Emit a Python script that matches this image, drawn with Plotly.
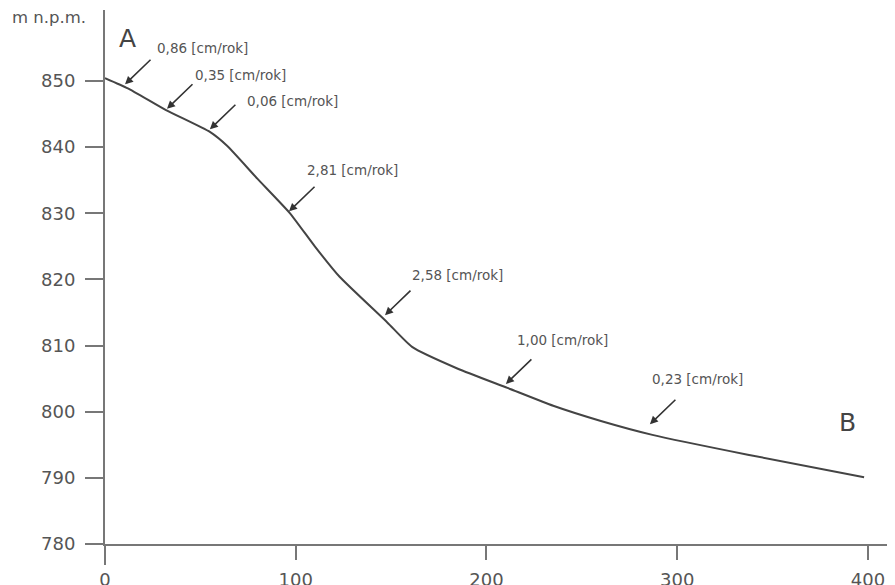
import plotly.graph_objects as go

# Profile A-B: distance [m] vs elevation [m n.p.m.]
dist = [0, 12, 32, 55, 64, 80, 97, 110, 123, 148, 161, 185, 211, 235, 260, 287, 337, 398]
elev = [850.45, 848.9, 845.6, 842.3, 840.2, 835.2, 830.0, 825.0, 820.4, 813.5, 809.8,
        806.5, 803.6, 800.9, 798.6, 796.5, 793.5, 790.1]

x_ticks = [0, 100, 200, 300, 400]
y_ticks = [780, 790, 800, 810, 820, 830, 840, 850]

# Rate labels and where their arrows point
rate_labels = ["0,86 [cm/rok]", "0,35 [cm/rok]", "0,06 [cm/rok]", "2,81 [cm/rok]",
               "2,58 [cm/rok]", "1,00 [cm/rok]", "0,23 [cm/rok]"]
arrow_x = [10.5, 32.5, 55, 96.5, 146.8, 210.2, 285.7]
arrow_y = [849.5, 845.8, 842.7, 830.3, 814.6, 804.2, 798.1]
label_x = [26.2, 46.1, 73.4, 104.9, 159.9, 215.0, 285.8]
label_y = [855.0, 850.9, 847.0, 836.5, 820.7, 810.8, 804.9]

FONT = "DejaVu Sans, Liberation Sans, Arial, sans-serif"
GREY = "#555555"

fig = go.Figure()
fig.add_trace(go.Scatter(x=dist, y=elev, mode="lines",
                         line=dict(color="#444444", width=2, shape="spline", smoothing=0.5),
                         hoverinfo="skip", showlegend=False))

ann = []
for tx, ty, ax_, ay_, lab in zip(label_x, label_y, arrow_x, arrow_y, rate_labels):
    ann.append(dict(x=ax_, y=ay_, xref="x", yref="y", text="", showarrow=True,
                    arrowhead=2, arrowsize=1, arrowwidth=1.6, arrowcolor="#333333",
                    ax=27, ay=-26, standoff=0))
    ann.append(dict(x=tx, y=ty, xref="x", yref="y", text=lab, showarrow=False,
                    xanchor="left", yanchor="middle",
                    font=dict(family=FONT, size=13.5, color=GREY)))

ann.append(dict(x=12, y=856.5, xref="x", yref="y", text="A", showarrow=False,
                font=dict(family=FONT, size=25, color="#444444")))
ann.append(dict(x=389.5, y=798.3, xref="x", yref="y", text="B", showarrow=False,
                font=dict(family=FONT, size=25, color="#444444")))
ann.append(dict(x=-95 / 790, y=(544 - 17) / 534, xref="paper", yref="paper", text="m n.p.m.",
                showarrow=False, xanchor="left", yanchor="middle",
                font=dict(family=FONT, size=16.5, color=GREY)))
ann.append(dict(x=(888 - 105) / 790, y=(544 - 560) / 534, xref="paper", yref="paper",
                text="m", showarrow=False, xanchor="left", yanchor="middle",
                font=dict(family=FONT, size=17, color=GREY)))

fig.update_layout(
    width=895, height=585,
    margin=dict(l=97, r=8, t=2, b=49, autoexpand=False),
    paper_bgcolor="white", plot_bgcolor="white",
    annotations=ann,
    shapes=[dict(type="line", xref="paper", yref="paper", x0=0, x1=0,
                 y0=-21 / 534, y1=0, line=dict(color="#777777", width=2))],
    xaxis=dict(range=[0, 414.2], tickvals=x_ticks, ticks="outside", ticklen=14,
               tickwidth=2, tickcolor="#777777", showline=True, linecolor="#777777",
               linewidth=2, showgrid=False, zeroline=False, ticklabelstandoff=4,
               tickfont=dict(family=FONT, size=18, color=GREY)),
    yaxis=dict(range=[780, 860.74], tickvals=y_ticks, ticks="outside", ticklen=18,
               tickwidth=2, tickcolor="#777777", showline=True, linecolor="#777777",
               linewidth=2, showgrid=False, zeroline=False, ticklabelstandoff=6,
               tickfont=dict(family=FONT, size=18, color=GREY)),
)

fig.write_html("out.html")
